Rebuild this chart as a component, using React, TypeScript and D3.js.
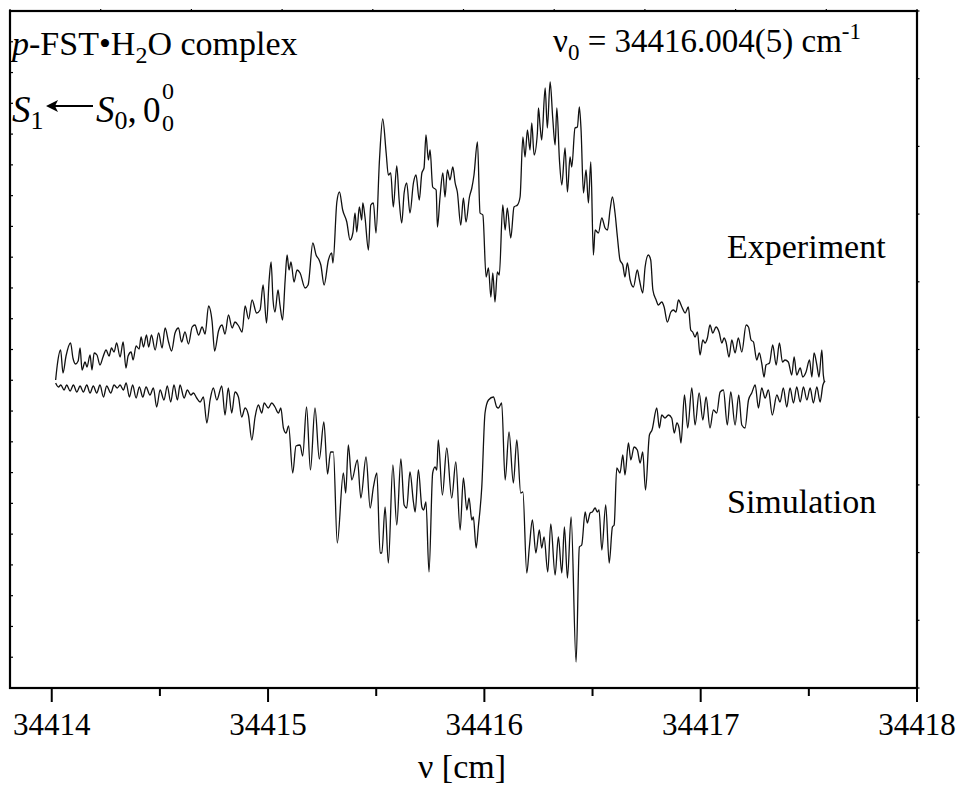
import React from 'react';
import * as d3 from 'd3';

const W = 957;
const H = 788;

// Frequency axis (cm^-1)
const NU_ORIGIN = 34414;
const xMajorTicks = [34414, 34415, 34416, 34417, 34418];
const xMinorTicks = [34414.5, 34415.5, 34416.5, 34417.5];

// Traces: [offset from 34414 cm^-1 in 10^-3 cm^-1, signal in arb. units as plotted]
const experiment: [number, number][] = [
  [18, 308], [25, 322], [41, 338], [52, 315], [66, 332], [87, 345], [98, 330], [110, 324], [122, 327], [131, 340],
  [140, 318], [154, 326], [163, 321], [177, 333], [186, 318], [196, 335], [209, 333], [223, 323], [237, 331], [251, 338],
  [265, 332], [276, 340], [288, 336], [300, 345], [316, 331], [330, 346], [343, 320], [353, 332], [367, 336], [376, 328],
  [390, 342], [404, 339], [413, 351], [424, 341], [438, 353], [448, 341], [461, 353], [478, 338], [494, 355], [510, 340],
  [524, 360], [540, 346], [554, 337], [570, 355], [586, 360], [600, 346], [616, 356], [632, 344], [649, 361], [662, 363],
  [679, 353], [695, 361], [709, 354], [725, 382], [741, 367], [753, 337], [771, 357], [787, 363], [801, 354], [817, 373],
  [834, 360], [847, 366], [864, 362], [880, 356], [894, 382], [910, 369], [926, 388], [947, 375], [963, 378], [977, 403],
  [993, 365], [1005, 408], [1014, 426], [1023, 388], [1032, 376], [1046, 398], [1055, 383], [1067, 368], [1079, 408], [1088, 433],
  [1097, 418], [1106, 426], [1120, 406], [1134, 418], [1148, 415], [1171, 400], [1185, 403], [1207, 445], [1222, 433], [1236, 428],
  [1244, 423], [1259, 403], [1279, 428], [1294, 435], [1300, 425], [1318, 486], [1330, 496], [1345, 478], [1364, 466], [1379, 448],
  [1392, 455], [1402, 475], [1410, 456], [1422, 481], [1433, 468], [1438, 485], [1448, 471], [1464, 438], [1475, 483], [1487, 485],
  [1499, 455], [1515, 528], [1530, 569], [1546, 535], [1556, 513], [1567, 515], [1579, 481], [1595, 522], [1606, 488], [1618, 465],
  [1629, 495], [1641, 505], [1656, 475], [1672, 505], [1684, 513], [1699, 488], [1711, 515], [1721, 520], [1730, 553], [1741, 528],
  [1749, 538], [1761, 501], [1777, 498], [1783, 461], [1795, 491], [1808, 515], [1818, 491], [1829, 518], [1841, 508], [1854, 521],
  [1865, 505], [1875, 496], [1891, 463], [1903, 490], [1915, 466], [1931, 491], [1942, 500], [1952, 513], [1968, 546], [1980, 475],
  [1993, 473], [2008, 411], [2019, 420], [2030, 391], [2039, 415], [2049, 386], [2060, 416], [2069, 413], [2085, 483], [2096, 458],
  [2106, 480], [2122, 450], [2137, 481], [2153, 483], [2165, 491], [2178, 551], [2188, 531], [2199, 558], [2211, 538], [2219, 565],
  [2230, 533], [2245, 555], [2250, 580], [2258, 561], [2265, 548], [2281, 600], [2291, 560], [2304, 606], [2316, 570], [2327, 543],
  [2335, 580], [2347, 528], [2358, 503], [2373, 540], [2384, 496], [2396, 531], [2404, 521], [2419, 560], [2430, 561], [2439, 581],
  [2447, 558], [2458, 495], [2470, 518], [2481, 485], [2492, 526], [2504, 433], [2512, 458], [2527, 455], [2543, 470], [2558, 460],
  [2569, 458], [2581, 478], [2592, 491], [2604, 475], [2615, 451], [2627, 428], [2640, 423], [2650, 411], [2661, 425], [2674, 408],
  [2689, 401], [2707, 418], [2717, 408], [2732, 395], [2743, 421], [2758, 433], [2769, 428], [2779, 398], [2794, 388], [2804, 383],
  [2820, 386], [2831, 381], [2846, 366], [2862, 376], [2874, 378], [2886, 376], [2897, 388], [2913, 381], [2928, 375], [2943, 381],
  [2954, 358], [2963, 356], [2974, 351], [2985, 356], [2997, 333], [3010, 348], [3020, 345], [3031, 350], [3043, 363], [3056, 355],
  [3071, 361], [3085, 356], [3098, 345], [3108, 350], [3117, 346], [3131, 331], [3144, 348], [3159, 335], [3174, 350], [3190, 336],
  [3210, 363], [3221, 361], [3233, 348], [3244, 346], [3259, 328], [3271, 335], [3282, 325], [3293, 311], [3302, 323], [3318, 325],
  [3333, 343], [3349, 323], [3364, 345], [3378, 326], [3390, 328], [3405, 326], [3421, 313], [3432, 331], [3444, 313], [3460, 320],
  [3472, 311], [3487, 316], [3503, 328], [3514, 311], [3524, 335], [3537, 323], [3547, 311], [3560, 338], [3567, 313], [3572, 306],
];

const simulation: [number, number][] = [
  [18, 305], [31, 301], [42, 303], [57, 298], [69, 303], [85, 297], [100, 303], [116, 296], [131, 302], [146, 296],
  [162, 303], [177, 295], [192, 302], [208, 295], [223, 303], [239, 291], [254, 302], [273, 295], [288, 303], [303, 300],
  [316, 303], [331, 298], [344, 305], [359, 291], [374, 303], [390, 290], [405, 301], [421, 291], [436, 301], [454, 293],
  [470, 300], [485, 281], [501, 298], [519, 288], [534, 302], [550, 286], [565, 303], [581, 288], [593, 303], [612, 290],
  [627, 298], [643, 293], [655, 295], [670, 290], [686, 286], [701, 291], [717, 265], [732, 288], [747, 300], [763, 288],
  [786, 302], [801, 273], [816, 300], [832, 275], [847, 296], [863, 291], [878, 271], [894, 280], [909, 273], [925, 248],
  [940, 271], [955, 283], [971, 275], [982, 285], [1001, 280], [1017, 285], [1032, 281], [1048, 275], [1059, 280], [1071, 260],
  [1083, 255], [1095, 262], [1114, 215], [1129, 242], [1148, 243], [1160, 232], [1178, 281], [1196, 218], [1217, 280], [1237, 229],
  [1258, 266], [1275, 214], [1289, 236], [1302, 236], [1320, 145], [1348, 215], [1359, 195], [1371, 243], [1387, 208], [1413, 228],
  [1429, 190], [1453, 231], [1472, 180], [1487, 201], [1503, 215], [1518, 135], [1526, 135], [1541, 181], [1556, 125], [1577, 223],
  [1595, 163], [1614, 229], [1629, 183], [1641, 180], [1656, 216], [1672, 186], [1680, 176], [1695, 218], [1711, 181], [1719, 178],
  [1730, 186], [1744, 116], [1761, 215], [1772, 221], [1780, 218], [1787, 248], [1806, 193], [1826, 240], [1849, 190], [1868, 226],
  [1888, 158], [1903, 210], [1919, 178], [1929, 190], [1942, 168], [1949, 171], [1962, 140], [1972, 161], [1988, 201], [2003, 275],
  [2019, 288], [2042, 291], [2057, 281], [2065, 280], [2080, 285], [2096, 208], [2114, 256], [2134, 205], [2150, 248], [2168, 195],
  [2178, 196], [2196, 115], [2208, 141], [2222, 168], [2238, 135], [2254, 158], [2265, 140], [2276, 151], [2293, 116], [2307, 164],
  [2327, 113], [2342, 151], [2358, 115], [2370, 161], [2384, 110], [2401, 171], [2424, 26], [2439, 141], [2450, 143], [2466, 176],
  [2476, 165], [2489, 175], [2499, 176], [2512, 180], [2522, 176], [2530, 178], [2543, 138], [2561, 183], [2577, 125], [2592, 161],
  [2600, 163], [2612, 220], [2627, 215], [2640, 233], [2650, 213], [2666, 245], [2677, 228], [2692, 241], [2707, 238], [2720, 225],
  [2732, 236], [2745, 198], [2763, 253], [2775, 258], [2797, 280], [2809, 260], [2820, 273], [2835, 270], [2851, 273], [2866, 270],
  [2878, 255], [2890, 265], [2900, 260], [2909, 245], [2925, 293], [2940, 260], [2959, 300], [2974, 263], [2993, 295], [3010, 268],
  [3025, 291], [3043, 260], [3059, 278], [3074, 275], [3090, 296], [3105, 298], [3123, 263], [3139, 296], [3159, 263], [3176, 293],
  [3190, 263], [3205, 260], [3221, 288], [3236, 295], [3252, 303], [3267, 280], [3282, 300], [3298, 290], [3313, 298], [3331, 273],
  [3352, 293], [3367, 286], [3382, 300], [3398, 281], [3413, 300], [3429, 285], [3444, 301], [3460, 286], [3475, 301], [3491, 288],
  [3506, 300], [3521, 285], [3537, 301], [3552, 286], [3565, 303], [3575, 307],
];

const FONT = "'Liberation Serif', 'Times New Roman', Times, serif";

export default function App() {
  // plot frame
  const left = 10;
  const right = 917;
  const top = 11;
  const bottom = 688;

  const x = d3.scaleLinear().domain([34413.807, 34418]).range([left, right]);
  const y = d3.scaleLinear().domain([0, 677]).range([bottom, top]);

  // secondary frame tick scales (top, right, left edges)
  const topEdge = d3.scaleLinear().domain([0, 10]).range([left, right]);
  const rightEdge = d3.scaleLinear().domain([0, 10]).range([bottom, top]);
  const leftEdge = d3.scaleLinear().domain([0, 22]).range([bottom, top]);

  const line = d3
    .line<[number, number]>()
    .x((d) => x(NU_ORIGIN + d[0] / 1000))
    .y((d) => y(d[1]))
    .curve(d3.curveMonotoneX);

  const expPath = line(experiment) ?? '';
  const simPath = line(simulation) ?? '';

  const ink = '#000';

  return (
    <svg
      width={W}
      height={H}
      viewBox={`0 0 ${W} ${H}`}
      style={{ position: 'absolute', left: 0, top: 0, background: '#fff' }}
      fontFamily={FONT}
    >
      <rect x={0} y={0} width={W} height={H} fill="#fff" />

      {/* traces */}
      <path d={expPath} fill="none" stroke="#111" strokeWidth={1.3} strokeLinejoin="round" />
      <path d={simPath} fill="none" stroke="#111" strokeWidth={1.3} strokeLinejoin="round" />

      {/* frame */}
      <rect x={left} y={top} width={right - left} height={bottom - top} fill="none" stroke={ink} strokeWidth={2.2} />

      {/* top edge ticks */}
      {topEdge.ticks(10).map((t) => (
        <line key={`tt${t}`} x1={topEdge(t)} x2={topEdge(t)} y1={top} y2={top - 2} stroke={ink} strokeWidth={1.2} />
      ))}
      {/* right edge ticks */}
      {rightEdge.ticks(10).map((t) => (
        <line key={`rt${t}`} x1={right} x2={right + 2.5} y1={rightEdge(t)} y2={rightEdge(t)} stroke={ink} strokeWidth={1.2} />
      ))}
      {/* left edge ticks */}
      {d3.range(1, 22).map((t) => (
        <line key={`lt${t}`} x1={left} x2={left + 3} y1={leftEdge(t)} y2={leftEdge(t)} stroke={ink} strokeWidth={1.2} />
      ))}

      {/* bottom axis */}
      {xMajorTicks.map((t) => (
        <g key={`mx${t}`}>
          <line x1={x(t)} x2={x(t)} y1={bottom} y2={bottom + 14} stroke={ink} strokeWidth={2} />
          <text x={x(t)} y={735} fontSize={31} textAnchor="middle" fill={ink}>
            {t}
          </text>
        </g>
      ))}
      {xMinorTicks.map((t) => (
        <line key={`mn${t}`} x1={x(t)} x2={x(t)} y1={bottom} y2={bottom + 8} stroke={ink} strokeWidth={2} />
      ))}
      <text x={462} y={778} fontSize={34} textAnchor="middle" fill={ink}>
        ν [cm]
      </text>

      {/* annotations */}
      <text x={12} y={55} fontSize={34} fill={ink}>
        <tspan fontStyle="italic">p</tspan>-FST•H
        <tspan dy={8} fontSize={24}>2</tspan>
        <tspan dy={-8}>O complex</tspan>
      </text>

      <text x={12} y={122} fontSize={37} fill={ink}>
        <tspan fontStyle="italic">S</tspan>
        <tspan dy={7} fontSize={26}>1</tspan>
      </text>
      <line x1={52} x2={93} y1={106} y2={106} stroke={ink} strokeWidth={1.8} />
      <path d="M46,106 L58,100 L55,106 L58,112 Z" fill={ink} />
      <text x={96} y={122} fontSize={37} fill={ink}>
        <tspan fontStyle="italic">S</tspan>
        <tspan dy={7} fontSize={26}>0</tspan>
        <tspan dy={-7}>,</tspan>
      </text>
      <text x={143} y={122} fontSize={35} fill={ink}>0</text>
      <text x={162} y={99} fontSize={24} fill={ink}>0</text>
      <text x={162} y={131} fontSize={24} fill={ink}>0</text>

      <text x={553} y={52} fontSize={33} fill={ink}>
        ν<tspan dy={8} fontSize={23}>0</tspan>
        <tspan dy={-8}> = 34416.004(5) cm</tspan>
        <tspan dy={-13} fontSize={23}>-1</tspan>
      </text>

      <text x={727} y={258} fontSize={34} fill={ink}>Experiment</text>
      <text x={727} y={513} fontSize={34} fill={ink}>Simulation</text>
    </svg>
  );
}
